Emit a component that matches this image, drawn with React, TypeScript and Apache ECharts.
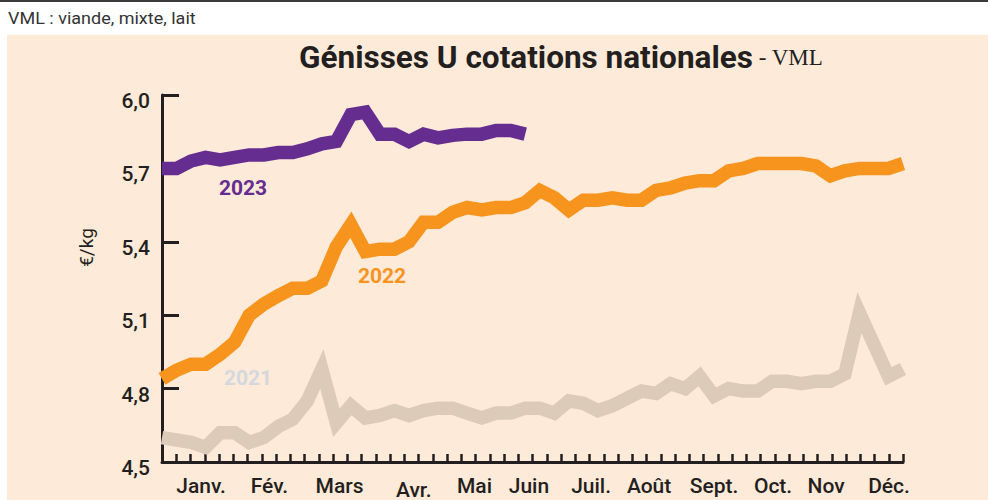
import React, { useEffect, useRef } from "react";
import * as echarts from "echarts";

// Weekly national quotations (€/kg), week 1..52
const weeks: string[] = Array.from({ length: 52 }, (_, i) => `S${i + 1}`);

const prices2021 = [
  4.60, 4.59, 4.58, 4.56, 4.62, 4.62, 4.58, 4.60, 4.645, 4.675,
  4.75, 4.88, 4.66, 4.73, 4.68, 4.69, 4.71, 4.69, 4.71, 4.72,
  4.72, 4.70, 4.68, 4.70, 4.70, 4.72, 4.72, 4.70, 4.75, 4.74,
  4.71, 4.73, 4.76, 4.79, 4.78, 4.82, 4.80, 4.85, 4.77, 4.80,
  4.79, 4.79, 4.83, 4.83, 4.82, 4.83, 4.83, 4.86, 5.11, 4.98,
  4.85, 4.88,
];

const prices2022 = [
  4.84, 4.875, 4.90, 4.90, 4.94, 4.99, 5.10, 5.145, 5.18, 5.21,
  5.21, 5.24, 5.38, 5.47, 5.36, 5.37, 5.37, 5.40, 5.48, 5.48,
  5.52, 5.54, 5.53, 5.54, 5.54, 5.56, 5.61, 5.58, 5.53, 5.57,
  5.57, 5.58, 5.57, 5.57, 5.61, 5.62, 5.64, 5.65, 5.65, 5.69,
  5.70, 5.72, 5.72, 5.72, 5.72, 5.71, 5.67, 5.69, 5.70, 5.70,
  5.70, 5.72,
];

const prices2023 = [
  5.70, 5.70, 5.73, 5.745, 5.735, 5.745, 5.755, 5.755, 5.765, 5.765,
  5.78, 5.80, 5.81, 5.92, 5.93, 5.84, 5.84, 5.81, 5.84, 5.825,
  5.835, 5.84, 5.84, 5.855, 5.855, 5.84,
];

// Month labels, placed on the 52-week tick scale
const monthLabels = ["Janv.", "Fév.", "Mars", "Avr.", "Mai", "Juin", "Juil.", "Août", "Sept.", "Oct.", "Nov", "Déc."];
const monthPositions = [2.74, 7.54, 12.46, 17.67, 21.93, 25.75, 30.11, 34.18, 38.74, 42.88, 46.6, 51.02];

const yTicks = { min: 4.5, max: 6.0, interval: 0.3 };

const INK = "#231f20";
const PURPLE = "#662d91";
const ORANGE = "#f7941e";
const BEIGE = "#ddcbb9";
const PEACH = "#feead8";
const FONT = "Roboto, 'Noto Sans', sans-serif";

export default function App() {
  const ref = useRef<HTMLDivElement>(null);

  useEffect(() => {
    if (!ref.current) return;
    const chart = echarts.init(ref.current, null, { renderer: "svg" });

    const lineStyle = (color: string) => ({
      color,
      width: 13.5,
      cap: "butt",
      join: "miter",
      miterLimit: 10,
    });

    const option: any = {
      animation: false,
      backgroundColor: "#ffffff",
      textStyle: { fontFamily: FONT },
      grid: { left: 162, right: 85, top: 95, bottom: 37, containLabel: false },
      xAxis: [
        {
          type: "category",
          data: weeks,
          boundaryGap: false,
          show: false,
          axisLine: { onZero: false },
        },
        {
          type: "value",
          min: 0,
          max: 52,
          interval: 1,
          position: "bottom",
          axisLine: { show: true, onZero: false, lineStyle: { color: INK, width: 3 } },
          axisTick: { show: true, inside: true, length: 8, lineStyle: { color: INK, width: 2.5 } },
          splitLine: { show: false },
          axisLabel: {
            show: true,
            customValues: monthPositions,
            margin: 13,
            color: INK,
            fontSize: 21,
            fontWeight: 500,
            fontFamily: FONT,
            formatter: (v: number) => {
              let best = 0;
              for (let i = 0; i < monthPositions.length; i++) {
                if (Math.abs(monthPositions[i] - v) < Math.abs(monthPositions[best] - v)) best = i;
              }
              const t = monthLabels[best];
              return t === "Avr." ? `{low|${t}}` : `{m|${t}}`;
            },
            rich: {
              m: { fontSize: 21, fontWeight: 500, color: INK, fontFamily: FONT },
              low: { padding: [4, 0, 0, 0], fontSize: 21, fontWeight: 500, color: INK, fontFamily: FONT },
            },
          },
        },
      ],
      yAxis: {
        type: "value",
        min: yTicks.min,
        max: yTicks.max,
        interval: yTicks.interval,
        name: "€/kg",
        nameLocation: "middle",
        nameRotate: 90,
        nameGap: 66,
        nameTextStyle: { color: INK, fontSize: 19, fontFamily: FONT, padding: [0, 0, 0, 62] },
        axisLine: { show: true, onZero: false, lineStyle: { color: INK, width: 3 } },
        axisTick: { show: true, inside: true, length: 17, lineStyle: { color: INK, width: 3 } },
        splitLine: { show: false },
        axisLabel: {
          color: INK,
          fontSize: 21,
          fontWeight: 500,
          fontFamily: FONT,
          margin: 12,
          formatter: (v: number) => `{v|${v.toFixed(1).replace(".", ",")}}`,
          rich: {
            v: { padding: [12, 0, 0, 0], fontSize: 21, fontWeight: 500, color: INK, fontFamily: FONT },
          },
        },
      },
      series: [
        {
          name: "2021",
          type: "line",
          xAxisIndex: 0,
          data: prices2021,
          symbol: "none",
          silent: true,
          z: 2,
          lineStyle: lineStyle(BEIGE),
        },
        {
          name: "2022",
          type: "line",
          xAxisIndex: 0,
          data: prices2022,
          symbol: "none",
          silent: true,
          z: 3,
          lineStyle: lineStyle(ORANGE),
        },
        {
          name: "2023",
          type: "line",
          xAxisIndex: 0,
          data: prices2023,
          symbol: "none",
          silent: true,
          z: 4,
          lineStyle: lineStyle(PURPLE),
        },
      ],
      graphic: [
        {
          type: "rect",
          z: -10,
          silent: true,
          shape: { x: 7, y: 35, width: 981, height: 465 },
          style: { fill: PEACH },
        },
        {
          type: "line",
          z: -5,
          silent: true,
          shape: { x1: 0, y1: 1, x2: 988, y2: 1 },
          style: { stroke: "#3a3a3a", lineWidth: 2 },
        },
        {
          type: "text",
          x: 8,
          y: 18,
          scaleX: 1.06,
          silent: true,
          style: {
            text: "VML : viande, mixte, lait",
            fill: "#333333",
            fontSize: 17,
            fontFamily: FONT,
            verticalAlign: "middle",
          },
        },
        {
          type: "text",
          x: 299,
          y: 57,
          silent: true,
          style: {
            text: "{a|Génisses U cotations nationales}{b| - VML}",
            verticalAlign: "middle",
            rich: {
              a: { fontSize: 31.5, fontWeight: "bold", fontFamily: FONT, fill: INK, color: INK },
              b: { fontSize: 23, fontFamily: "'Liberation Serif', 'DejaVu Serif', serif", fill: INK, color: INK },
            },
          },
        },
        {
          type: "text",
          x: 243,
          y: 188,
          z: 10,
          silent: true,
          style: { text: "2023", fill: PURPLE, fontSize: 21, fontWeight: "bold", fontFamily: FONT, align: "center", verticalAlign: "middle" },
        },
        {
          type: "text",
          x: 382,
          y: 276,
          z: 10,
          silent: true,
          style: { text: "2022", fill: ORANGE, fontSize: 21, fontWeight: "bold", fontFamily: FONT, align: "center", verticalAlign: "middle" },
        },
        {
          type: "text",
          x: 248,
          y: 378,
          z: 10,
          silent: true,
          style: { text: "2021", fill: "#d2d8dd", fontSize: 21, fontWeight: "bold", fontFamily: FONT, align: "center", verticalAlign: "middle" },
        },
      ],
    };

    chart.setOption(option);
    return () => chart.dispose();
  }, []);

  return <div ref={ref} style={{ position: "fixed", left: 0, top: 0, width: 988, height: 500 }} />;
}
